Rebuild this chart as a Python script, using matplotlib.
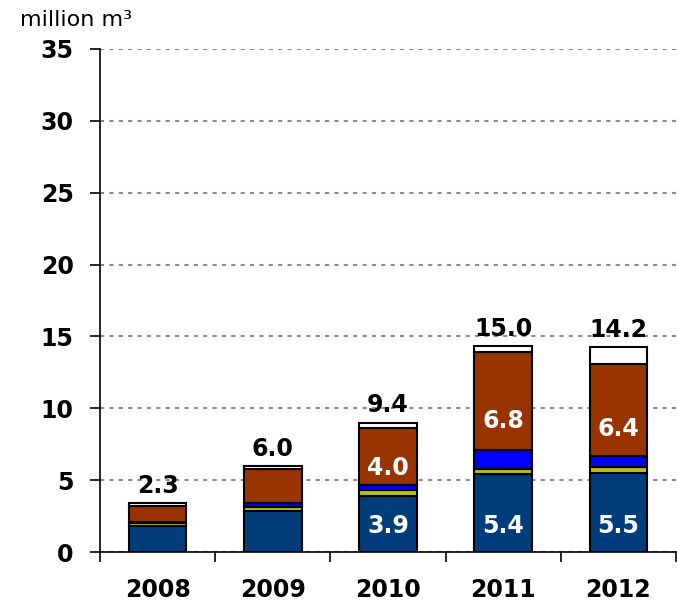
import numpy as np
import matplotlib.pyplot as plt

plt.rcParams['font.family'] = ['DejaVu Sans']

# ------------------------------ Datos ----------------------------
years = ['2008', '2009', '2010', '2011', '2012']
darkBlue = [1.83, 2.85, 3.9, 5.4, 5.5]
olive = [0.2, 0.3, 0.4, 0.4, 0.4]
blue = [0.07, 0.24, 0.35, 1.3, 0.75]
brown = [1.1, 2.36, 4.0, 6.8, 6.4]
white = [0.2, 0.21, 0.35, 0.4, 1.2]
totals = ['2.3', '6.0', '9.4', '15.0', '14.2']

segments = [darkBlue, olive, blue, brown, white]
colors = ['#003d7a', '#b8c11c', '#0000ff', '#993300', '#ffffff']

# ------------------------------ Gráfica ----------------------------
fig = plt.figure(figsize=(6.77, 6.01), dpi=100)
ax = fig.add_axes([0.1477, 0.0815, 0.8508, 0.837])

x = np.arange(len(years))
bottom = np.zeros(len(years))
for values, color in zip(segments, colors):
    ax.bar(x, values, width=0.5, bottom=bottom, color=color,
           edgecolor='black', linewidth=1.5, zorder=3)
    bottom += np.array(values)

# Etiquetas de totales sobre cada barra
for i, label in enumerate(totals):
    ax.annotate(label, (x[i], bottom[i]), xytext=(0, 4), textcoords='offset points',
                ha='center', va='bottom', fontsize=17, fontweight='bold', zorder=4)

# Etiquetas internas (2010-2012)
for i in range(2, len(years)):
    ax.text(x[i], 1.8, f'{darkBlue[i]:.1f}', ha='center', va='center',
            color='white', fontsize=17, fontweight='bold', zorder=4)
    base = darkBlue[i] + olive[i] + blue[i]
    ax.text(x[i], base + 0.3 * brown[i], f'{brown[i]:.1f}', ha='center', va='center',
            color='white', fontsize=17, fontweight='bold', zorder=4)

ax.set_ylim(0, 35)
ax.set_xlim(-0.5, len(years) - 0.5)
ax.set_yticks(range(0, 36, 5))
ax.yaxis.grid(True, color='#8c8c8c', linestyle=(0, (2, 2.5)), linewidth=1.5, zorder=0)
ax.set_axisbelow(True)

ax.set_xticks(x)
ax.set_xticklabels(years)
ax.set_xticks(np.arange(-0.5, len(years)), minor=True)
ax.tick_params(axis='x', which='major', length=0, pad=19, labelsize=17)
ax.tick_params(axis='x', which='minor', length=7, width=1.2, direction='out')
ax.tick_params(axis='y', length=7, width=1.2, pad=12, labelsize=17)
for lab in ax.get_xticklabels() + ax.get_yticklabels():
    lab.set_fontweight('bold')

for side in ['top', 'right']:
    ax.spines[side].set_visible(False)
ax.spines['left'].set_linewidth(1.2)
ax.spines['bottom'].set_linewidth(1.2)

fig.text(20 / 677, 1 - 20 / 601, 'million m³', fontsize=16, va='center', ha='left')

plt.savefig('out.png', dpi=100)
